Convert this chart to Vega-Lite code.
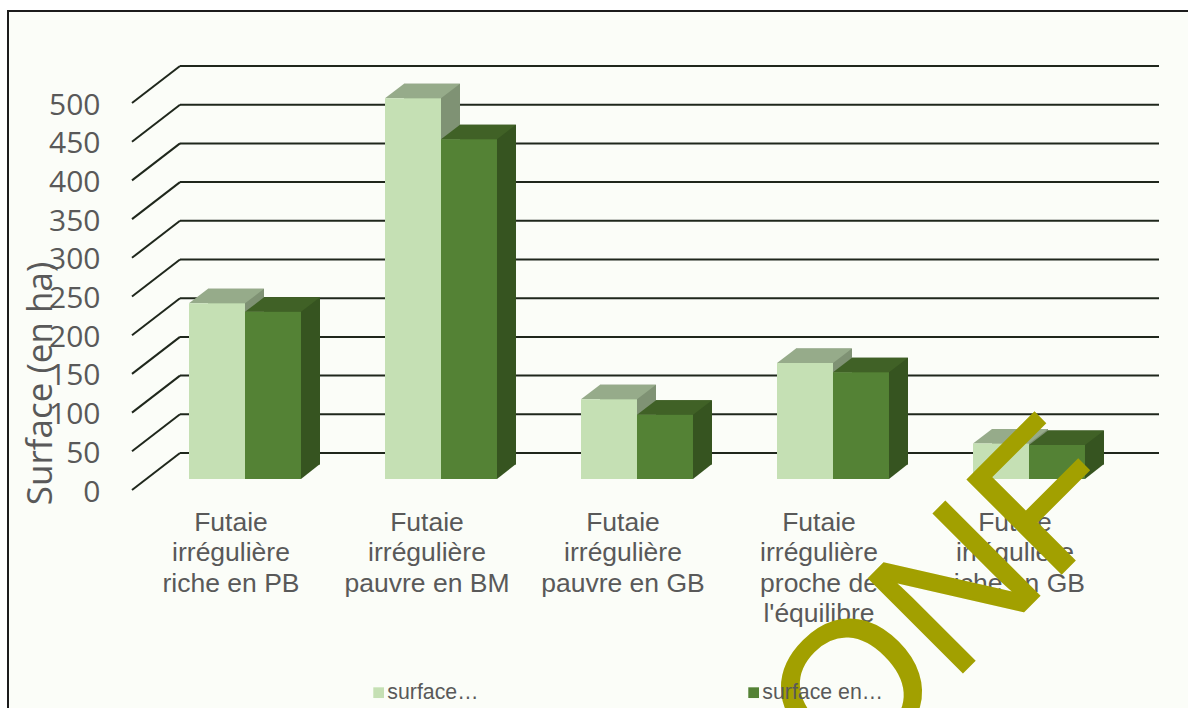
{"$schema":"https://vega.github.io/schema/vega-lite/v6.json","width":1182,"height":699,"autosize":{"type":"none"},"padding":{"left":8,"top":11,"right":0,"bottom":0},"background":"#ffffff","view":{"fill":"#FBFDF8","stroke":"#1c1c1c","strokeWidth":2},"datasets":{"bars":[{"type":"Futaie irrégulière riche en PB","series":"surface…","surface":227},{"type":"Futaie irrégulière riche en PB","series":"surface en…","surface":216},{"type":"Futaie irrégulière pauvre en BM","series":"surface…","surface":492},{"type":"Futaie irrégulière pauvre en BM","series":"surface en…","surface":439},{"type":"Futaie irrégulière pauvre en GB","series":"surface…","surface":103},{"type":"Futaie irrégulière pauvre en GB","series":"surface en…","surface":83},{"type":"Futaie irrégulière proche de l'équilibre","series":"surface…","surface":150},{"type":"Futaie irrégulière proche de l'équilibre","series":"surface en…","surface":138},{"type":"Futaie irrégulière riche en GB","series":"surface…","surface":46},{"type":"Futaie irrégulière riche en GB","series":"surface en…","surface":44}],"ticks":[{"tick":0},{"tick":50},{"tick":100},{"tick":150},{"tick":200},{"tick":250},{"tick":300},{"tick":350},{"tick":400},{"tick":450},{"tick":500}]},"resolve":{"scale":{"x":"independent","y":"independent","xOffset":"independent","color":"independent"},"axis":{"x":"independent","y":"independent"}},"layer":[{"data":{"name":"ticks"},"mark":{"type":"rule","color":"#1f271c","strokeWidth":2},"encoding":{"x":{"datum":0,"type":"quantitative","scale":{"domain":[0,1],"range":[172,1151]},"axis":null},"x2":{"datum":1},"y":{"field":"tick","type":"quantitative","scale":{"domain":[0,500],"range":[442,55]},"axis":null}}},{"data":{"name":"ticks"},"mark":{"type":"rule","color":"#1f271c","strokeWidth":2,"y2Offset":-37},"encoding":{"x":{"datum":0,"type":"quantitative","scale":{"domain":[0,1],"range":[124,172]},"axis":null},"x2":{"datum":1},"y":{"field":"tick","type":"quantitative","scale":{"domain":[0,500],"range":[479,92]},"axis":{"offset":-124,"values":[0,50,100,150,200,250,300,350,400,450,500],"domain":false,"ticks":false,"grid":false,"labelPadding":32,"labelOffset":2,"labelFont":"Open Sans","labelFontSize":30,"labelColor":"#595959","title":"Surface (en ha)","titleFont":"Open Sans","titleFontSize":35,"titleFontWeight":"normal","titleColor":"#595959","titleX":-92,"titleY":372,"titleAngle":-90,"titleAlign":"center","titleBaseline":"middle"}},"y2":{"field":"tick"}}},{"data":{"name":"bars"},"mark":{"type":"bar","stroke":null},"encoding":{"x":{"field":"type","type":"nominal","sort":null,"scale":{"range":[200,1096],"paddingInner":0.42857,"paddingOuter":0,"round":false},"axis":null},"xOffset":{"field":"series","type":"nominal","sort":null,"scale":{"range":[0,112],"padding":0}},"y":{"field":"surface","type":"quantitative","scale":{"domain":[0,500],"range":[453.5,66.5]},"axis":null},"color":{"field":"series","type":"nominal","sort":null,"scale":{"domain":["surface…","surface en…"],"range":["#7F9274","#365420"]},"legend":null}}},{"data":{"name":"bars"},"mark":{"type":"point","shape":"M56,0L56,-15L75,-15Z","size":4,"filled":true,"opacity":1,"strokeWidth":0},"encoding":{"x":{"field":"type","type":"nominal","sort":null,"scale":{"range":[181,1077],"paddingInner":0.42857,"paddingOuter":0,"round":false},"axis":null},"xOffset":{"field":"series","type":"nominal","sort":null,"scale":{"range":[0,56],"padding":0}},"y":{"datum":0,"type":"quantitative","scale":{"domain":[0,500],"range":[468,81]},"axis":null},"color":{"field":"series","type":"nominal","sort":null,"scale":{"domain":["surface…","surface en…"],"range":["#7F9274","#365420"]},"legend":null}}},{"data":{"name":"bars"},"mark":{"type":"point","shape":"M0,0L19,-14.5L75,-14.5L56,0Z","size":4,"filled":true,"opacity":1,"strokeWidth":0},"encoding":{"x":{"field":"type","type":"nominal","sort":null,"scale":{"range":[181,1077],"paddingInner":0.42857,"paddingOuter":0,"round":false},"axis":null},"xOffset":{"field":"series","type":"nominal","sort":null,"scale":{"range":[0,56],"padding":0}},"y":{"field":"surface","type":"quantitative","scale":{"domain":[0,500],"range":[468,81]},"axis":null},"color":{"field":"series","type":"nominal","sort":null,"scale":{"domain":["surface…","surface en…"],"range":["#96AB8A","#406126"]},"legend":null}}},{"data":{"name":"bars"},"mark":{"type":"bar","stroke":null},"encoding":{"x":{"field":"type","type":"nominal","sort":null,"scale":{"range":[181,1077],"paddingInner":0.42857,"paddingOuter":0,"round":false},"axis":{"title":null,"orient":"bottom","offset":-201,"domain":false,"ticks":false,"labelAngle":0,"labelPadding":0,"labelOffset":-14,"labelBaseline":"top","labelAlign":"center","labelFont":"Liberation Sans","labelFontSize":26.5,"labelColor":"#595959","labelLimit":400,"labelLineHeight":30.5,"labelExpr":"split(replace(replace(datum.label,'Futaie ','Futaie|'),/ (riche|pauvre|proche|l')/g,'|$1'),'|')"}},"xOffset":{"field":"series","type":"nominal","sort":null,"scale":{"range":[0,112],"padding":0}},"y":{"field":"surface","type":"quantitative","scale":{"domain":[0,500],"range":[468,81]},"axis":null},"color":{"field":"series","type":"nominal","sort":null,"scale":{"domain":["surface…","surface en…"],"range":["#C5E0B4","#548235"]},"legend":{"title":null,"orient":"none","legendX":360,"legendY":671,"columns":2,"columnPadding":264,"symbolType":"square","symbolSize":115,"symbolStrokeWidth":0,"labelFont":"Liberation Sans","labelFontSize":21.3,"labelColor":"#595959","labelOffset":-2,"labelLimit":200,"padding":0}}}},{"data":{"values":[{"logo":"ONF"}]},"mark":{"type":"text","angle":-45,"align":"center","baseline":"alphabetic","font":"Liberation Sans","fontSize":193,"color":"#A2A000","stroke":"#A2A000","strokeWidth":2},"encoding":{"text":{"field":"logo","type":"nominal"},"x":{"datum":0.832,"type":"quantitative","scale":{"domain":[0,1],"range":[0,1180]},"axis":null},"y":{"datum":0.91,"type":"quantitative","scale":{"domain":[0,1],"range":[0,697]},"axis":null}}}]}
